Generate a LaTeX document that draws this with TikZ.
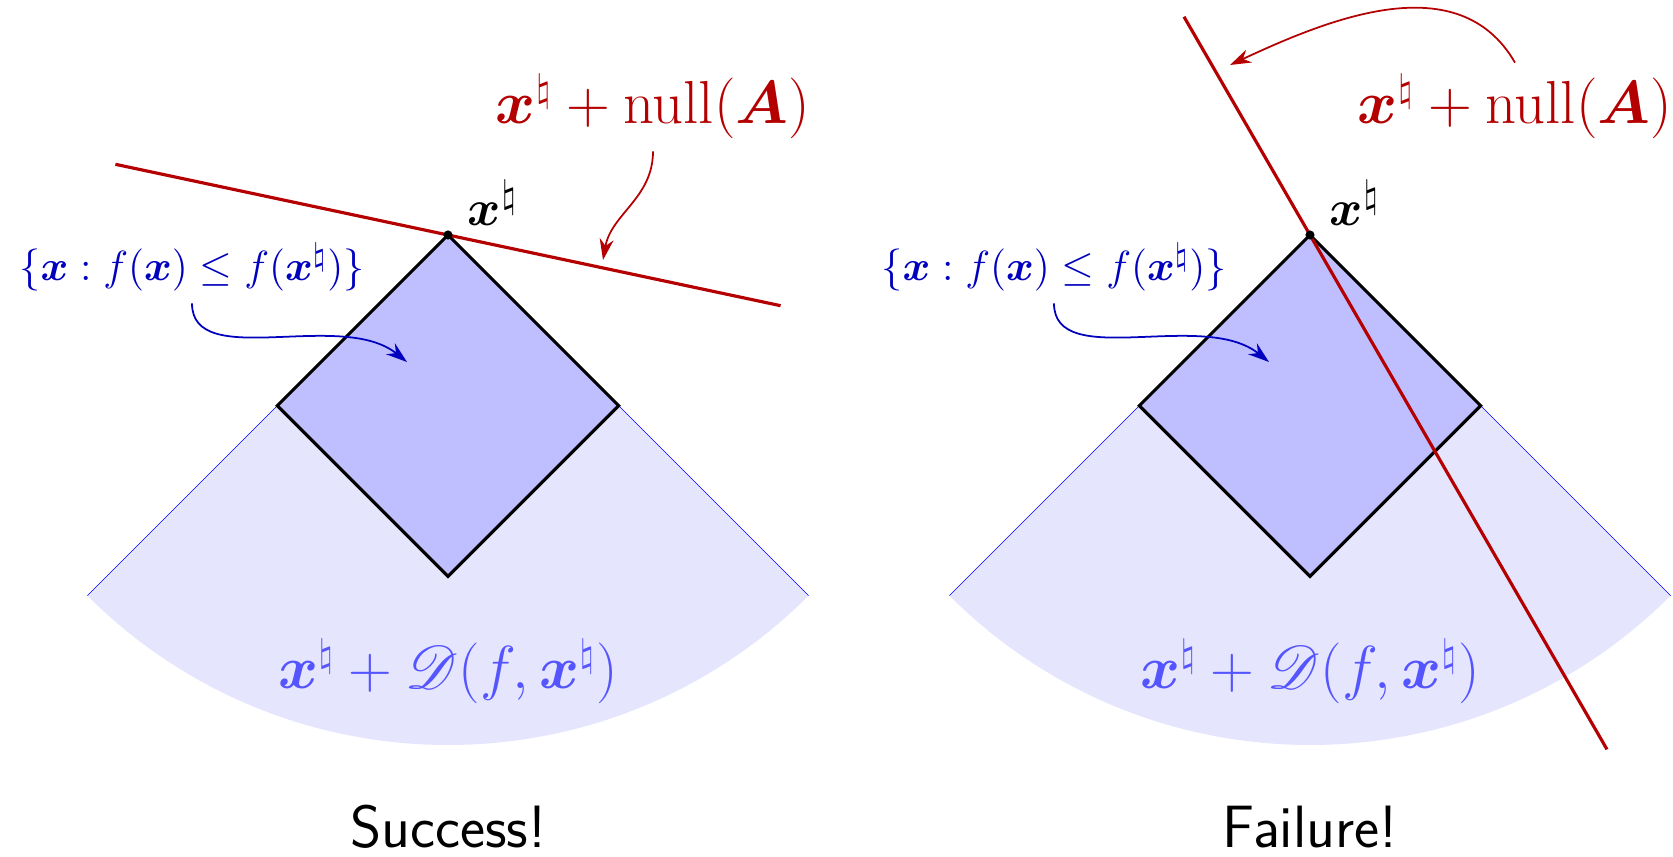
\documentclass[tikz,border=0pt]{standalone}
\usepackage{amsmath,amssymb,mathrsfs}
\usetikzlibrary{positioning,arrows.meta,calc}
\definecolor{nullred}{RGB}{180,0,0}
\definecolor{setblue}{RGB}{0,0,190}
\definecolor{conetext}{RGB}{85,85,255}
\definecolor{conefill}{RGB}{229,229,253}
\definecolor{diamfill}{RGB}{191,191,255}

\begin{document}
\begin{tikzpicture}[font=\fontsize{15.5}{18}\selectfont,
    nullline/.style={nullred,line width=0.9pt},
    ballline/.style={black,line width=0.9pt,fill=diamfill},
    nulllabel/.style={nullred,font=\fontsize{16.3}{20}\selectfont},
    conelabel/.style={conetext,font=\fontsize{16}{19}\selectfont},
    setlabel/.style={setblue,font=\fontsize{13.1}{16}\selectfont},
    caption/.style={font=\fontsize{17}{20}\selectfont\sffamily},
    ptr/.style={-{Stealth[length=6pt,width=4pt]},line width=0.5pt}]
    \useasboundingbox (0,0) rectangle (16.73,8.57);
    % left panel: success
    \coordinate (xl) at (4.48,6.22);
    \fill[conefill] (xl) -- ++(-135:5.1) arc[start angle=-135,end angle=-45,radius=5.1] -- cycle;
    \draw[blue,line width=0.15pt] ($(xl)+(-135:5.1)$) -- (xl) -- ($(xl)+(-45:5.1)$);
    \draw[ballline] (xl) -- ++(-1.707,-1.707) -- ++(1.707,-1.707)
        -- ++(1.707,1.707) -- cycle;
    \draw[nullline] ($(xl)+(168:3.4)$) -- ($(xl)+(-12:3.4)$);
    \fill (xl) circle (1.3pt);
    \node (ptl) at ($(xl)+(0.45,0.32)$) {$\boldsymbol{x}^\natural$};
    \node[nulllabel] (nulll) at (6.53,7.50)
        {$\boldsymbol{x}^\natural + \operatorname{null}(\boldsymbol{A})$};
    \coordinate (tipl) at (6.03,5.97);
    \draw[ptr,nullred] (nulll.south) to[out=-90,in=80] (tipl);
    \node[setlabel] (setl) at (1.92,5.90)
        {$\{\boldsymbol{x} : f(\boldsymbol{x}) \leq f(\boldsymbol{x}^\natural)\}$};
    \coordinate (inl) at (4.07,4.95);
    \draw[ptr,setblue] (setl.south) .. controls +(0,-0.68) and +(-0.66,0.53) .. (inl);
    \node[conelabel] (conel) at (4.48,1.85)
        {$\boldsymbol{x}^\natural + \mathscr{D}(f,\boldsymbol{x}^\natural)$};
    \node[caption] (okl) at (4.48,0.30) {Success!};

    % right panel: failure
    \coordinate (xr) at (13.10,6.22);
    \fill[conefill] (xr) -- ++(-135:5.1) arc[start angle=-135,end angle=-45,radius=5.1] -- cycle;
    \draw[blue,line width=0.15pt] ($(xr)+(-135:5.1)$) -- (xr) -- ($(xr)+(-45:5.1)$);
    \draw[ballline] (xr) -- ++(-1.707,-1.707) -- ++(1.707,-1.707)
        -- ++(1.707,1.707) -- cycle;
    \draw[nullline] ($(xr)+(120:2.52)$) -- ($(xr)+(-60:5.94)$);
    \fill (xr) circle (1.3pt);
    \node (ptr) at ($(xr)+(0.45,0.32)$) {$\boldsymbol{x}^\natural$};
    \node[nulllabel] (nullr) at (15.15,7.50)
        {$\boldsymbol{x}^\natural + \operatorname{null}(\boldsymbol{A})$};
    \coordinate (tipr) at (12.30,7.92);
    \draw[ptr,nullred] (nullr.north) to[out=120,in=25] (tipr);
    \node[setlabel] (setr) at (10.54,5.90)
        {$\{\boldsymbol{x} : f(\boldsymbol{x}) \leq f(\boldsymbol{x}^\natural)\}$};
    \coordinate (inr) at (12.69,4.95);
    \draw[ptr,setblue] (setr.south) .. controls +(0,-0.68) and +(-0.66,0.53) .. (inr);
    \node[conelabel] (coner) at (13.10,1.85)
        {$\boldsymbol{x}^\natural + \mathscr{D}(f,\boldsymbol{x}^\natural)$};
    \node[caption] (failr) at (13.10,0.30) {Failure!};
\end{tikzpicture}
\end{document}
